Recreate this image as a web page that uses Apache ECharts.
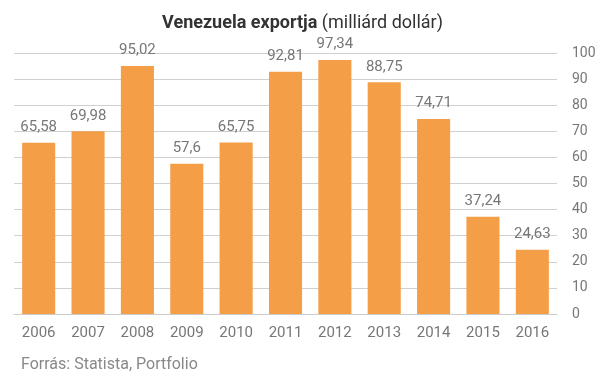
<!DOCTYPE html>
<html><head><meta charset="utf-8">
<script src="https://cdn.jsdelivr.net/npm/echarts@6/dist/echarts.min.js"></script>
<style>html,body{margin:0;padding:0;background:#fff}#c{width:605px;height:378px}</style>
</head><body><div id="c"></div>
<script>
const categories = ['2006','2007','2008','2009','2010','2011','2012','2013','2014','2015','2016'];
const values = [65.58, 69.98, 95.02, 57.6, 65.75, 92.81, 97.34, 88.75, 74.71, 37.24, 24.63];
const labels = ['65,58','69,98','95,02','57,6','65,75','92,81','97,34','88,75','74,71','37,24','24,63'];
const chart = echarts.init(document.getElementById('c'));
chart.setOption({
  animation: false,
  textStyle: { fontFamily: 'Roboto' },
  title: [{
    text: '{b|Venezuela exportja} {n|(milliárd dollár)}',
    left: 'center', top: 9,
    textStyle: { rich: {
      b: { fontFamily: 'Roboto', fontWeight: 'bold', fontSize: 18, color: '#333' },
      n: { fontFamily: 'Roboto', fontWeight: 'normal', fontSize: 18, color: '#333' }
    } }
  }, {
    text: 'Forrás: Statista, Portfolio',
    left: 16, top: 352,
    textStyle: { fontFamily: 'Roboto', fontWeight: 'normal', fontSize: 16, color: '#888' }
  }],
  grid: { left: 14, right: 48, top: 53, bottom: 64 },
  xAxis: {
    type: 'category', data: categories,
    axisLine: { lineStyle: { color: '#ccc' } },
    axisTick: { show: false },
    axisLabel: { color: '#777', fontSize: 15, margin: 12 }
  },
  yAxis: {
    type: 'value', position: 'right', min: 0, max: 100, interval: 10,
    axisLine: { show: false }, axisTick: { show: false },
    splitLine: { lineStyle: { color: '#d0d0d0' } },
    axisLabel: { color: '#777', fontSize: 14, margin: 15 }
  },
  series: [{
    type: 'bar', data: values, barWidth: '67%',
    itemStyle: { color: '#F59E48' },
    label: { show: true, position: 'top', distance: 8, color: '#777', fontSize: 15,
      formatter: p => labels[p.dataIndex] }
  }]
});
</script></body></html>
